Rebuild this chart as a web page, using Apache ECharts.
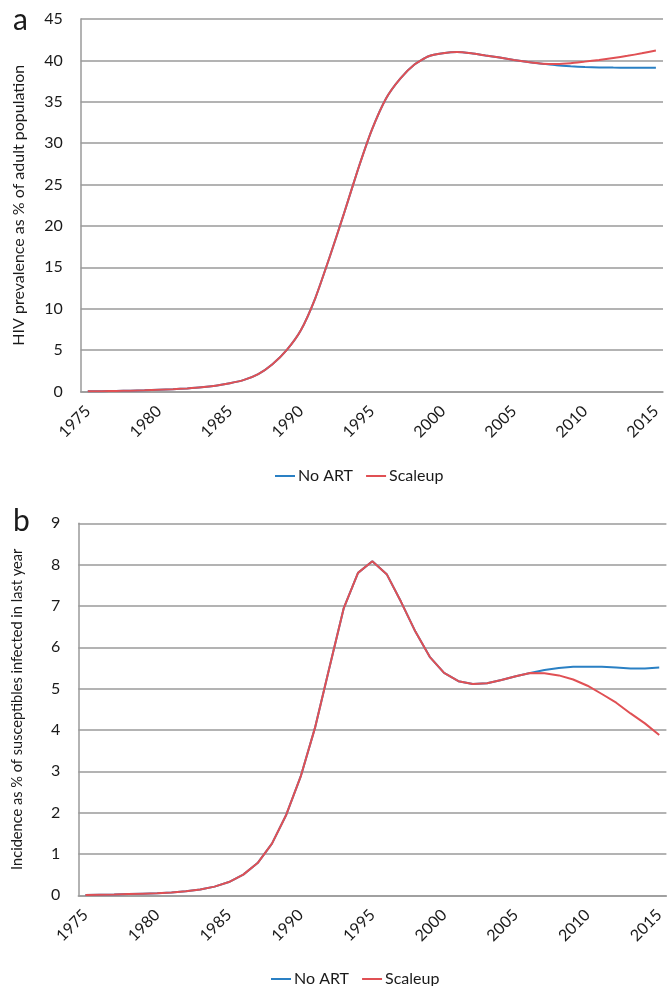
<!DOCTYPE html>
<html>
<head>
<meta charset="utf-8">
<script src="https://cdn.jsdelivr.net/npm/echarts@6/dist/echarts.min.js"></script>
<style>
  html, body { margin: 0; padding: 0; background: #fff; }
  #chart { width: 667px; height: 986px; }
</style>
</head>
<body>
<div id="chart"></div>
<script>
// years 1975..2015
const years = [];
for (let y = 1975; y <= 2015; y++) years.push(String(y));

// panel a: HIV prevalence (%)
const prevNoArt = [0.02, 0.04, 0.07, 0.1, 0.14, 0.2, 0.27, 0.37, 0.5, 0.7,
  1.0, 1.4, 2.1, 3.3, 5.0, 7.4, 11.2, 16.1, 21.3, 26.7,
  31.6, 35.4, 37.8, 39.5, 40.5, 40.85, 41.0, 40.85, 40.6, 40.35,
  40.05, 39.8, 39.6, 39.4, 39.28, 39.2, 39.15, 39.13, 39.12, 39.12, 39.12];
const prevScaleup = [0.02, 0.04, 0.07, 0.1, 0.14, 0.2, 0.27, 0.37, 0.5, 0.7,
  1.0, 1.4, 2.1, 3.3, 5.0, 7.4, 11.2, 16.1, 21.3, 26.7,
  31.6, 35.4, 37.8, 39.5, 40.5, 40.85, 41.0, 40.85, 40.6, 40.35,
  40.05, 39.8, 39.6, 39.55, 39.65, 39.85, 40.05, 40.3, 40.55, 40.85, 41.2];

// panel b: incidence (% of susceptibles infected in last year)
const incNoArt = [0.01, 0.015, 0.02, 0.03, 0.04, 0.05, 0.07, 0.1, 0.14, 0.21,
  0.32, 0.5, 0.78, 1.25, 1.95, 2.87, 4.05, 5.5, 6.94, 7.8,
  8.08, 7.77, 7.1, 6.38, 5.77, 5.38, 5.18, 5.11, 5.13, 5.21,
  5.3, 5.38, 5.45, 5.5, 5.53, 5.53, 5.53, 5.51, 5.49, 5.49, 5.51];
const incScaleup = [0.01, 0.015, 0.02, 0.03, 0.04, 0.05, 0.07, 0.1, 0.14, 0.21,
  0.32, 0.5, 0.78, 1.25, 1.95, 2.87, 4.05, 5.5, 6.94, 7.8,
  8.08, 7.77, 7.1, 6.38, 5.77, 5.38, 5.18, 5.11, 5.13, 5.21,
  5.3, 5.38, 5.37, 5.32, 5.22, 5.07, 4.87, 4.66, 4.4, 4.16, 3.88];

const FONT = 'Lato';
const TXT = '#1a1a1a';
const GRID_C = '#9a9a9a';
const BLUE = '#2a80c4';
const RED = '#e05054';

function xAxisFor(idx) {
  return {
    type: 'category',
    gridIndex: idx,
    data: years,
    boundaryGap: true,
    axisLine: { lineStyle: { color: GRID_C, width: 1.5 } },
    axisTick: { show: false },
    axisLabel: {
      interval: 4, rotate: 45, margin: 17,
      fontFamily: FONT, fontSize: 16, color: TXT
    }
  };
}

function yAxisFor(idx, max, step, name, nameSize) {
  return {
    type: 'value',
    gridIndex: idx,
    min: 0, max: max, interval: step,
    name: name,
    nameLocation: 'middle',
    nameGap: 54,
    nameTextStyle: { fontFamily: FONT, fontSize: nameSize, color: TXT },
    axisLine: { show: true, lineStyle: { color: GRID_C, width: 1.5 } },
    axisTick: { show: false },
    axisLabel: { margin: 18, fontFamily: FONT, fontSize: 16, color: TXT },
    splitLine: { lineStyle: { color: GRID_C, width: 1.5 } }
  };
}

function line(name, data, color, idx, smooth) {
  return {
    name: name, type: 'line', data: data,
    xAxisIndex: idx, yAxisIndex: idx,
    showSymbol: false, smooth: smooth,
    lineStyle: { color: color, width: 2 },
    itemStyle: { color: color }
  };
}

const legendBase = {
  icon: 'rect', itemWidth: 20, itemHeight: 2, itemGap: 13,
  textStyle: { fontFamily: FONT, fontSize: 16, color: TXT, padding: [0, 0, 0, -2] },
  data: ['No ART', 'Scaleup']
};

const chart = echarts.init(document.getElementById('chart'));
chart.setOption({
  animation: false,
  backgroundColor: '#fff',
  title: [
    { text: 'a', left: 8, top: 0, textStyle: { fontFamily: FONT, fontSize: 30, fontWeight: 'normal', color: TXT } },
    { text: 'b', left: 8, top: 501, textStyle: { fontFamily: FONT, fontSize: 30, fontWeight: 'normal', color: TXT } }
  ],
  legend: [
    Object.assign({}, legendBase, { left: 270, top: 463 }),
    Object.assign({}, legendBase, { left: 266, top: 966 })
  ],
  grid: [
    { left: 80.7, top: 19, right: 4, height: 372.5 },
    { left: 78.3, top: 523.3, right: 0, height: 372 }
  ],
  xAxis: [xAxisFor(0), xAxisFor(1)],
  yAxis: [
    yAxisFor(0, 45, 5, 'HIV prevalence as % of adult population', 16),
    yAxisFor(1, 9, 1, 'Incidence as % of susceptibles infected in last year', 14.6)
  ],
  series: [
    line('No ART', prevNoArt, BLUE, 0, 0.2),
    line('Scaleup', prevScaleup, RED, 0, 0.2),
    line('No ART', incNoArt, BLUE, 1, false),
    line('Scaleup', incScaleup, RED, 1, false)
  ]
});
</script>
</body>
</html>
